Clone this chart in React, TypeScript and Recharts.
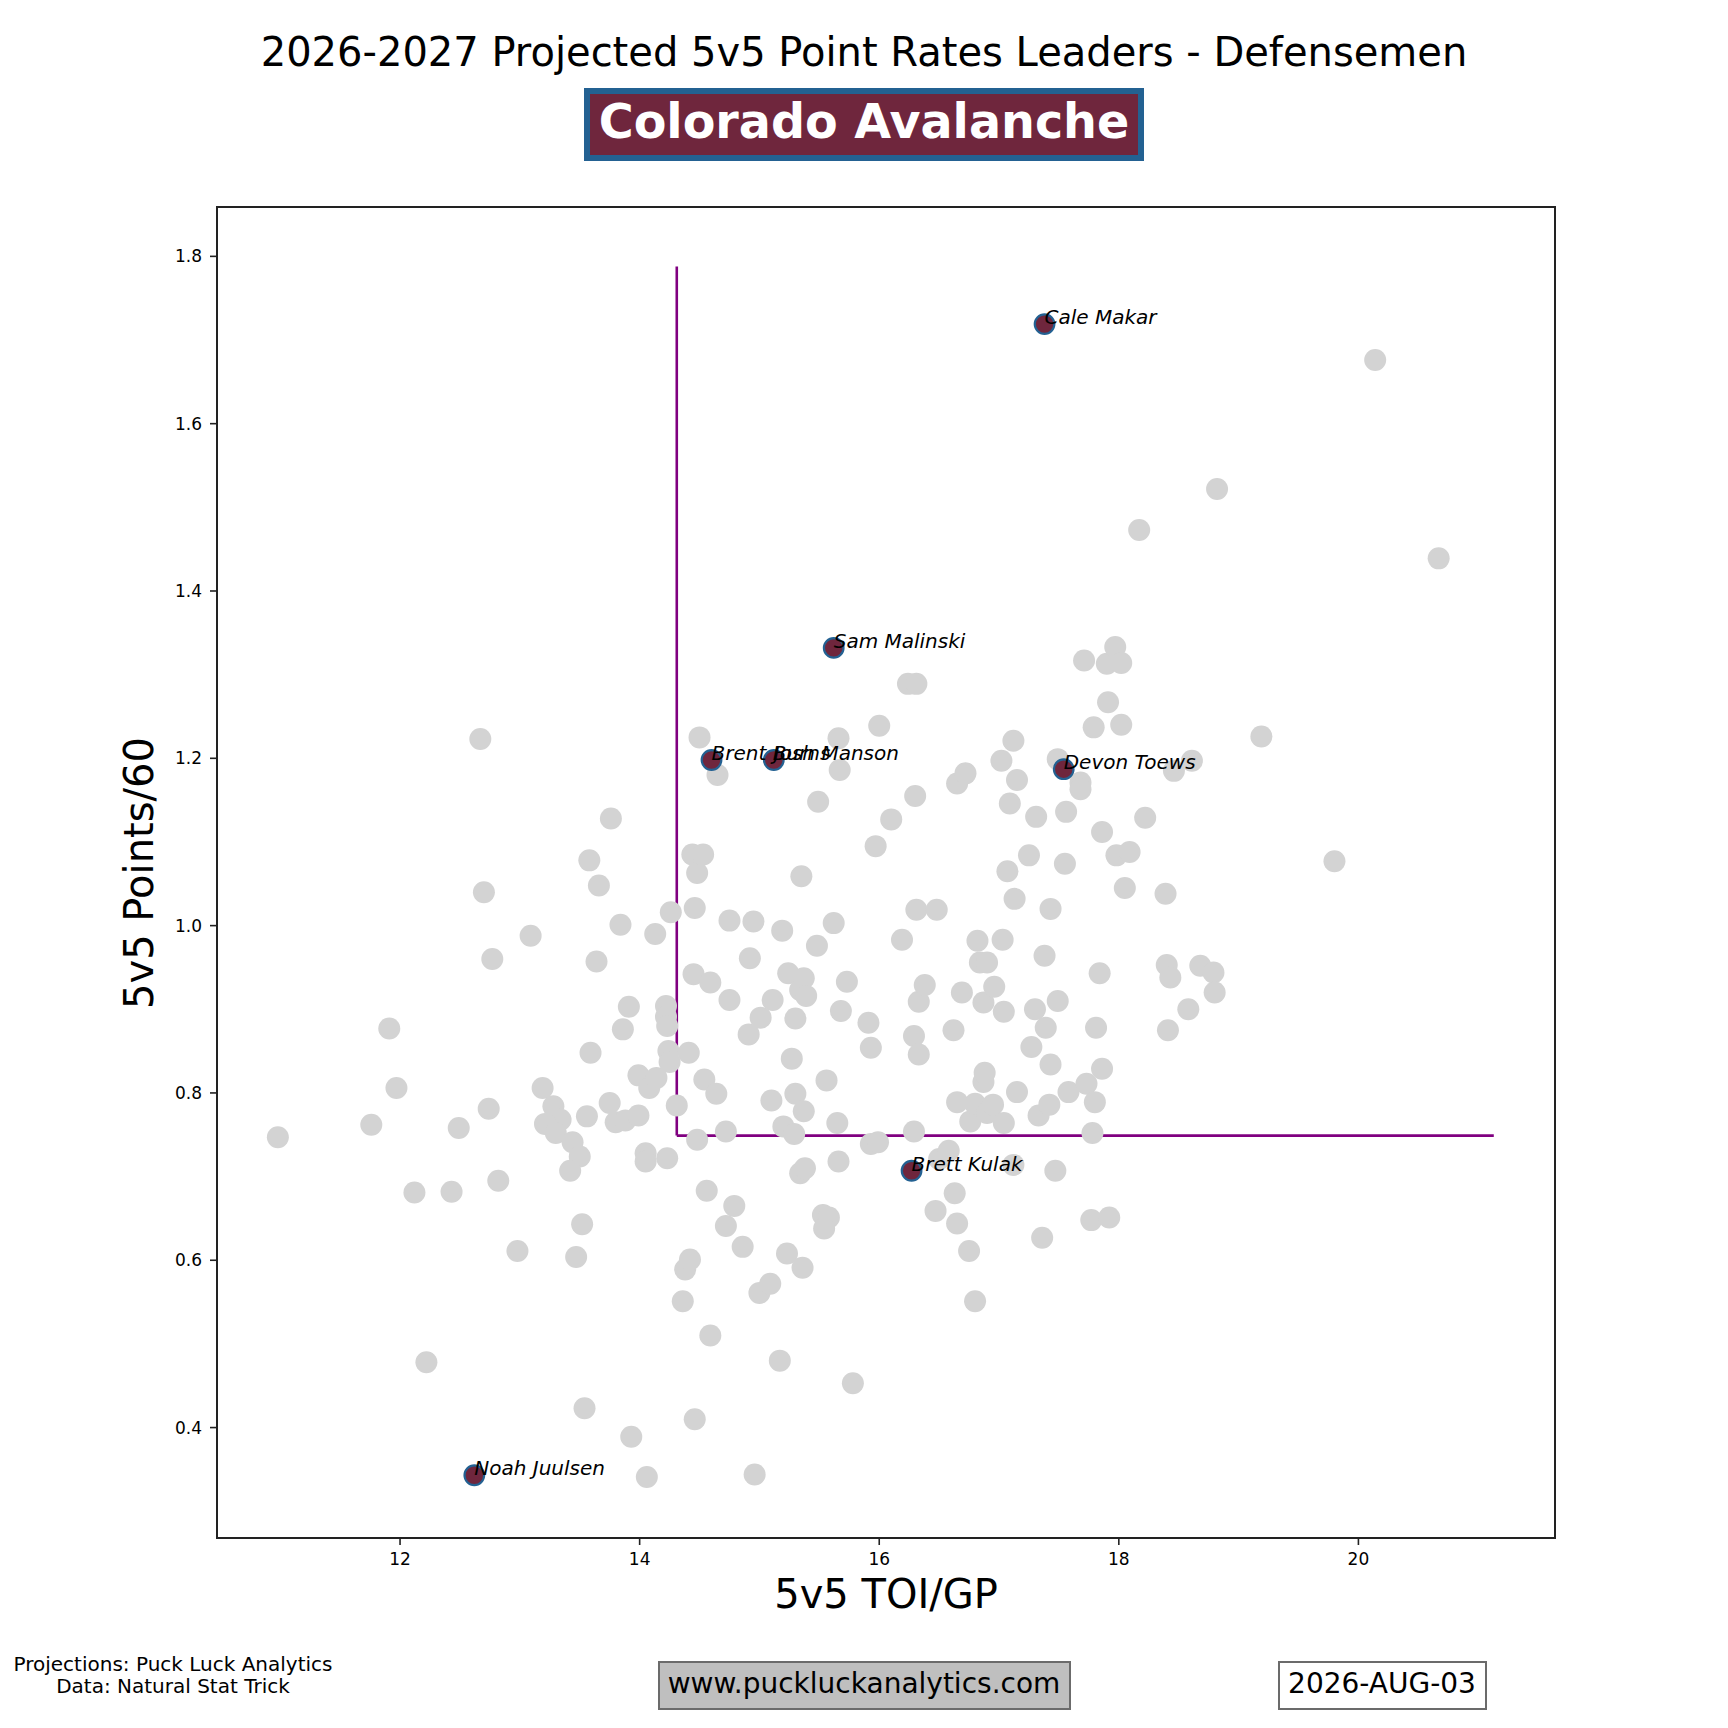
import React from "react";
import {
  ScatterChart,
  Scatter,
  XAxis,
  YAxis,
  ReferenceLine,
  ReferenceArea,
} from "recharts";

// ---- data ----
const leagueToi: number[] = [
  10.98, 11.76, 11.91, 11.97, 12.12, 12.22, 12.43, 12.49, 12.67, 12.7, 12.74, 12.77, 12.82, 12.98, 13.09,
  13.19, 13.28, 13.34, 13.21, 13.3, 13.44, 13.5, 13.42, 13.47, 13.52, 13.54, 13.56, 13.58, 13.59, 13.64,
  13.66, 13.75, 13.76, 13.8, 13.84, 13.86, 13.88, 13.91, 13.93, 13.99, 13.99, 14.05, 14.05, 14.06, 14.08,
  14.13, 14.14, 14.22, 14.22, 14.23, 14.23, 14.24, 14.25, 14.26, 14.31, 14.36, 14.38, 14.41, 14.42, 14.44,
  14.45, 14.46, 14.46, 14.48, 14.48, 14.5, 14.53, 14.54, 14.56, 14.59, 14.59, 14.64, 14.65, 14.72, 14.72,
  14.75, 14.75, 14.79, 14.86, 14.92, 14.91, 14.95, 14.96, 15.01, 15.0, 15.1, 15.09, 15.11, 15.17, 15.19,
  15.2, 15.23, 15.24, 15.27, 15.29, 15.3, 15.3, 15.34, 15.34, 15.35, 15.36, 15.37, 15.37, 15.38, 15.39,
  15.48, 15.49, 15.53, 15.58, 15.54, 15.56, 15.62, 15.65, 15.66, 15.66, 15.67, 15.68, 15.73, 15.78, 15.91,
  15.93, 15.93, 15.97, 15.99, 16.0, 16.1, 16.19, 16.24, 16.31, 16.29, 16.29, 16.3, 16.31, 16.33, 16.33,
  16.38, 16.47, 16.48, 16.5, 16.58, 16.62, 16.63, 16.65, 16.65, 16.65, 16.69, 16.72, 16.75, 16.76, 16.8,
  16.8, 16.82, 16.84, 16.87, 16.88, 16.87, 16.9, 16.9, 16.95, 16.96, 17.02, 17.03, 17.04, 17.04, 17.07,
  17.09, 17.12, 17.13, 17.12, 17.15, 17.15, 17.25, 17.27, 17.3, 17.31, 17.33, 17.36, 17.38, 17.39, 17.42,
  17.43, 17.43, 17.47, 17.49, 17.49, 17.55, 17.56, 17.58, 17.68, 17.68, 17.71, 17.73, 17.77, 17.78, 17.79,
  17.8, 17.81, 17.84, 17.86, 17.86, 17.9, 17.91, 17.92, 17.97, 17.98, 18.02, 18.02, 18.05, 18.09, 18.17,
  18.22, 18.39, 18.4, 18.41, 18.43, 18.46, 18.58, 18.61, 18.68, 18.79, 18.8, 18.82, 19.19, 19.8, 20.14,
  20.67,
];

const leaguePts: number[] = [
  0.747, 0.762, 0.877, 0.806, 0.681, 0.478, 0.682, 0.758, 1.223, 1.04, 0.781, 0.96, 0.695, 0.611, 0.988,
  0.806, 0.784, 0.768, 0.763, 0.752, 0.741, 0.724, 0.707, 0.604, 0.643, 0.423, 0.772, 1.078, 0.848, 0.957,
  1.048, 0.788, 1.128, 0.765, 1.001, 0.876, 0.767, 0.903, 0.389, 0.821, 0.773, 0.728, 0.718, 0.341, 0.806,
  0.99, 0.818, 0.904, 0.891, 0.88, 0.722, 0.85, 0.837, 1.016, 0.785, 0.551, 0.589, 0.848, 0.601, 1.085,
  0.942, 1.021, 0.41, 1.063, 0.744, 1.225, 1.085, 0.816, 0.683, 0.51, 0.932, 0.799, 1.18, 0.754, 0.641,
  1.006, 0.911, 0.665, 0.616, 0.961, 0.87, 1.005, 0.344, 0.89, 0.561, 0.791, 0.572, 0.911, 0.48, 0.994,
  0.76, 0.608, 0.943, 0.841, 0.751, 0.799, 0.889, 0.923, 0.704, 1.059, 0.591, 0.937, 0.778, 0.71, 0.916,
  0.976, 1.148, 0.654, 0.651, 0.638, 0.815, 1.003, 0.764, 0.718, 1.224, 1.186, 0.898, 0.933, 0.453, 0.884,
  0.854, 0.739, 1.095, 0.741, 1.239, 1.127, 0.983, 1.289, 1.289, 0.868, 0.754, 1.155, 1.019, 0.909, 0.846,
  0.929, 0.659, 1.019, 0.721, 0.731, 0.875, 0.68, 1.17, 0.789, 0.644, 0.92, 1.182, 0.611, 0.766, 0.551,
  0.787, 0.982, 0.956, 0.813, 0.824, 0.908, 0.956, 0.776, 0.786, 0.927, 1.197, 0.983, 0.897, 0.764, 1.065,
  1.146, 1.221, 1.032, 0.714, 1.174, 0.801, 1.084, 0.855, 0.9, 1.13, 0.773, 0.627, 0.964, 0.878, 0.786,
  0.834, 1.02, 0.707, 1.199, 0.91, 1.074, 1.136, 0.801, 1.171, 1.163, 1.317, 0.811, 0.648, 0.752, 1.237,
  0.789, 0.878, 0.943, 1.112, 0.829, 1.313, 1.267, 0.651, 1.333, 1.084, 1.314, 1.24, 1.045, 1.088, 1.473,
  1.129, 1.038, 0.953, 0.875, 0.938, 1.185, 0.9, 1.197, 0.952, 0.944, 0.92, 1.522, 1.226, 1.077, 1.676,
  1.439,
];

const teamNames: string[] = [
  "Cale Makar",
  "Sam Malinski",
  "Brent Burns",
  "Josh Manson",
  "Devon Toews",
  "Brett Kulak",
  "Noah Juulsen",
];
const teamToi: number[] = [17.38, 15.62, 14.6, 15.12, 17.54, 16.27, 12.62];
const teamPts: number[] = [1.719, 1.332, 1.198, 1.198, 1.187, 0.707, 0.343];

const xTicks: number[] = [12, 14, 16, 18, 20];
const yTicks: number[] = [0.4, 0.6, 0.8, 1.0, 1.2, 1.4, 1.6, 1.8];
const xDomain: [number, number] = [10.472, 21.641];
const yDomain: [number, number] = [0.268, 1.859];

// threshold lines
const toiCut = 14.31;
const ptsCut = 0.749;
const toiLineEnd = 21.13;
const ptsLineEnd = 1.788;

const titleText = "2026-2027 Projected 5v5 Point Rates Leaders - Defensemen";
const teamText = "Colorado Avalanche";
const xLabel = "5v5 TOI/GP";
const yLabel = "5v5 Points/60";
const creditLines: string[] = ["Projections: Puck Luck Analytics", "Data: Natural Stat Trick"];
const siteText = "www.puckluckanalytics.com";
const dateText = "2026-AUG-03";

const leagueData = leagueToi.map((x, i) => ({ x, y: leaguePts[i] }));
const teamData = teamNames.map((name, i) => ({ name, x: teamToi[i], y: teamPts[i] }));

const FONT = "'DejaVu Sans', 'Liberation Sans', sans-serif";
const MAROON = "#6F263D";
const BLUE = "#236192";

const GrayDot = (p: any) => <circle cx={p.cx} cy={p.cy} r={11} fill="#D3D3D3" />;
const TeamDot = (p: any) => (
  <circle cx={p.cx} cy={p.cy} r={9.8} fill={MAROON} stroke={BLUE} strokeWidth={2.2} />
);
const TeamLabel = (p: any) => (
  <text
    x={p.cx}
    y={p.cy}
    fontFamily={FONT}
    fontSize={20}
    fontStyle="italic"
    fill="#000"
  >
    {p.payload?.name}
  </text>
);

export default function App() {
  return (
    <div
      style={{
        position: "absolute",
        left: 0,
        top: 0,
        width: 1728,
        height: 1728,
        background: "#fff",
        overflow: "hidden",
      }}
    >
      <ScatterChart
        width={1728}
        height={1728}
        margin={{ top: 207, right: 173, bottom: 140, left: 137 }}
      >
        <XAxis
          type="number"
          dataKey="x"
          domain={xDomain}
          ticks={xTicks}
          allowDataOverflow
          height={50}
          tickSize={7}
          tickMargin={8}
          axisLine={{ stroke: "#222", strokeWidth: 2 }}
          tickLine={{ stroke: "#222", strokeWidth: 1.6 }}
          tick={{ fill: "#000", fontSize: 17, fontFamily: FONT }}
        />
        <YAxis
          type="number"
          dataKey="y"
          domain={yDomain}
          ticks={yTicks}
          allowDataOverflow
          width={80}
          tickSize={7}
          tickMargin={8}
          tickFormatter={(v: number) => v.toFixed(1)}
          axisLine={{ stroke: "#222", strokeWidth: 2 }}
          tickLine={{ stroke: "#222", strokeWidth: 1.6 }}
          tick={{ fill: "#000", fontSize: 17, fontFamily: FONT }}
        />
        <ReferenceArea
          x1={xDomain[0]}
          x2={xDomain[1]}
          y1={yDomain[0]}
          y2={yDomain[1]}
          fill="none"
          fillOpacity={0}
          stroke="#222"
          strokeWidth={2}
        />
        <Scatter data={leagueData} shape={GrayDot} isAnimationActive={false} />
        <Scatter data={teamData} shape={TeamDot} isAnimationActive={false} />
        <ReferenceLine
          segment={[
            { x: toiCut, y: ptsCut },
            { x: toiCut, y: ptsLineEnd },
          ]}
          stroke="#800080"
          strokeWidth={2.6}
        />
        <ReferenceLine
          segment={[
            { x: toiCut, y: ptsCut },
            { x: toiLineEnd, y: ptsCut },
          ]}
          stroke="#800080"
          strokeWidth={2.6}
        />
        <Scatter data={teamData} shape={TeamLabel} isAnimationActive={false} />
      </ScatterChart>

      <svg
        width={1728}
        height={1728}
        style={{ position: "absolute", left: 0, top: 0, pointerEvents: "none" }}
      >
        <text x={864} y={66} textAnchor="middle" fontFamily={FONT} fontSize={40} fill="#000">
          {titleText}
        </text>
        <rect x={587} y={91} width={554} height={67} fill={MAROON} stroke={BLUE} strokeWidth={6} />
        <text
          x={864}
          y={138}
          textAnchor="middle"
          fontFamily={FONT}
          fontSize={47.6}
          fontWeight="bold"
          fill="#fff"
        >
          {teamText}
        </text>
        <text x={886} y={1608} textAnchor="middle" fontFamily={FONT} fontSize={40} fill="#000">
          {xLabel}
        </text>
        <text
          x={153}
          y={873}
          transform="rotate(-90 153 873)"
          textAnchor="middle"
          fontFamily={FONT}
          fontSize={40}
          fill="#000"
        >
          {yLabel}
        </text>
        {creditLines.map((line, i) => (
          <text
            key={line}
            x={173}
            y={1671 + i * 22}
            textAnchor="middle"
            fontFamily={FONT}
            fontSize={20}
            fill="#000"
          >
            {line}
          </text>
        ))}
        <rect x={659} y={1662} width={411} height={47} fill="#BFBFBF" stroke="#6b6b6b" strokeWidth={2} />
        <text x={864} y={1693} textAnchor="middle" fontFamily={FONT} fontSize={28} fill="#000">
          {siteText}
        </text>
        <rect x={1279} y={1662} width={207} height={47} fill="#fff" stroke="#6b6b6b" strokeWidth={2} />
        <text x={1382} y={1693} textAnchor="middle" fontFamily={FONT} fontSize={28} fill="#000">
          {dateText}
        </text>
      </svg>
    </div>
  );
}
